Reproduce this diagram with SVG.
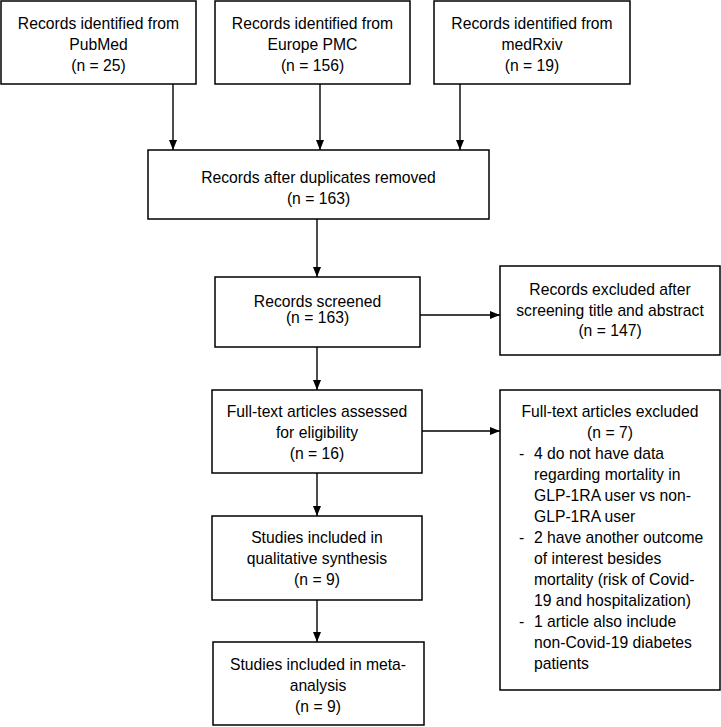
<svg xmlns="http://www.w3.org/2000/svg" width="721" height="727" viewBox="0 0 721 727">
<style>
rect.box{fill:#fff;stroke:#000;stroke-width:1.5}
text{font-family:"Liberation Sans",Arial,sans-serif;font-size:15.7px;fill:#000}
.c{text-anchor:middle}
.conn line{stroke:#000;stroke-width:1.4}
</style>
<defs>
<marker id="ah" markerWidth="10" markerHeight="8" refX="10" refY="4" orient="auto" markerUnits="userSpaceOnUse">
<path d="M0,0 L10,4 L0,8 Z" fill="#000"/>
</marker>
</defs>
<rect width="721" height="727" fill="#fff"/>
<g id="pubmed"><rect class="box" x="1" y="1" width="195" height="83"/>
<text class="c" x="98.5" y="29">Records identified from</text><text class="c" x="98.5" y="50">PubMed</text><text class="c" x="98.5" y="71">(n = 25)</text></g>
<g id="europepmc"><rect class="box" x="215" y="1" width="195" height="83"/>
<text class="c" x="312.5" y="29">Records identified from</text><text class="c" x="312.5" y="50">Europe PMC</text><text class="c" x="312.5" y="71">(n = 156)</text></g>
<g id="medrxiv"><rect class="box" x="434" y="1" width="196" height="83"/>
<text class="c" x="532" y="29">Records identified from</text><text class="c" x="532" y="50">medRxiv</text><text class="c" x="532" y="71">(n = 19)</text></g>
<g id="dedup"><rect class="box" x="148" y="150" width="341" height="69"/>
<text class="c" x="318.5" y="183">Records after duplicates removed</text><text class="c" x="318.5" y="204">(n = 163)</text></g>
<g id="screened"><rect class="box" x="215" y="277" width="205" height="70"/>
<text class="c" x="317.5" y="307">Records screened</text><text class="c" x="317.5" y="323">(n = 163)</text></g>
<g id="excluded1"><rect class="box" x="500" y="266" width="220" height="89"/>
<text class="c" x="610" y="295">Records excluded after</text><text class="c" x="610" y="316">screening title and abstract</text><text class="c" x="610" y="336">(n = 147)</text></g>
<g id="fulltext"><rect class="box" x="212" y="390" width="210" height="83"/>
<text class="c" x="317" y="417">Full-text articles assessed</text><text class="c" x="317" y="438">for eligibility</text><text class="c" x="317" y="459">(n = 16)</text></g>
<g id="excluded2"><rect class="box" x="500" y="390" width="220" height="300"/>
<text class="c" x="610" y="417">Full-text articles excluded</text><text class="c" x="610" y="438">(n = 7)</text>
<text x="519" y="459">-</text><text x="534" y="459">4 do not have data</text>
<text x="534" y="480">regarding mortality in</text>
<text x="534" y="501">GLP-1RA user vs non-</text>
<text x="534" y="522">GLP-1RA user</text>
<text x="519" y="543">-</text><text x="534" y="543">2 have another outcome</text>
<text x="534" y="564">of interest besides</text>
<text x="534" y="585">mortality (risk of Covid-</text>
<text x="534" y="606">19 and hospitalization)</text>
<text x="519" y="627">-</text><text x="534" y="627">1 article also include</text>
<text x="534" y="648">non-Covid-19 diabetes</text>
<text x="534" y="669">patients</text></g>
<g id="qualitative"><rect class="box" x="212" y="516" width="210" height="84"/>
<text class="c" x="317" y="543">Studies included in</text><text class="c" x="317" y="564">qualitative synthesis</text><text class="c" x="317" y="585">(n = 9)</text></g>
<g id="meta"><rect class="box" x="213" y="642" width="211" height="83"/>
<text class="c" x="318" y="670">Studies included in meta-</text><text class="c" x="318" y="691">analysis</text><text class="c" x="318" y="712">(n = 9)</text></g>
<g class="conn" id="connectors">
<line x1="173" y1="84" x2="173" y2="150" marker-end="url(#ah)"/>
<line x1="320" y1="84" x2="320" y2="150" marker-end="url(#ah)"/>
<line x1="460" y1="84" x2="460" y2="150" marker-end="url(#ah)"/>
<line x1="317" y1="219" x2="317" y2="277" marker-end="url(#ah)"/>
<line x1="420" y1="315" x2="500" y2="315" marker-end="url(#ah)"/>
<line x1="317" y1="347" x2="317" y2="390" marker-end="url(#ah)"/>
<line x1="422" y1="431" x2="500" y2="431" marker-end="url(#ah)"/>
<line x1="317" y1="473" x2="317" y2="516" marker-end="url(#ah)"/>
<line x1="317" y1="600" x2="317" y2="642" marker-end="url(#ah)"/>
</g>
</svg>
